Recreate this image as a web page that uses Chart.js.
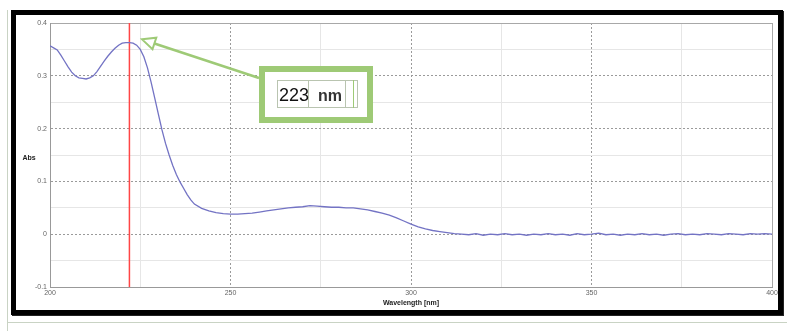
<!DOCTYPE html>
<html>
<head>
<meta charset="utf-8">
<script src="https://cdn.jsdelivr.net/npm/chart.js@4.4.0/dist/chart.umd.min.js"></script>
<style>
  html, body { margin: 0; padding: 0; background: #fff; }
  #wrap { position: relative; width: 787px; height: 331px; overflow: hidden; }
  #edgeL { position: absolute; left: 7px; top: 10px; width: 1px; height: 321px; background: #c9d3c4; }
  #edgeB { position: absolute; left: 7px; top: 322px; width: 780px; height: 1px; background: #c9d3c4; }
  #frame { position: absolute; left: 11px; top: 10px; width: 762px; height: 295px;
           border: 5px solid #000; box-shadow: 1px 1px 0 #222; background: #fff; }
  canvas { position: absolute; left: 0; top: 0; }
</style>
</head>
<body>
<div id="wrap">
  <div id="edgeL"></div>
  <div id="edgeB"></div>
  <div id="frame"></div>
  <canvas id="chart" width="787" height="331"></canvas>
</div>
<script>
// spectrum
var wavelengths = [
  200, 201, 202, 203, 204, 205, 206, 207, 208, 209,
  210, 211, 212, 213, 214, 215, 216, 217, 218, 219,
  220, 221, 222, 223, 224, 225, 226, 227, 228, 229,
  230, 231, 232, 233, 234, 235, 236, 237, 238, 239,
  240, 242, 244, 246, 248, 250, 252, 254, 256, 258,
  260, 262, 264, 266, 268, 270, 272, 274, 276, 278,
  280, 282, 284, 286, 288, 290, 292, 294, 296, 298,
  300, 302, 304, 306, 308, 310, 312, 314, 316, 318,
  320, 322, 324, 326, 328, 330, 332, 334, 336, 338,
  340, 342, 344, 346, 348, 350, 352, 354, 356, 358,
  360, 362, 364, 366, 368, 370, 372, 374, 376, 378,
  380, 382, 384, 386, 388, 390, 392, 394, 396, 398, 400
];
var absorbance = [
  0.357, 0.353, 0.349, 0.339, 0.328, 0.317, 0.307, 0.300, 0.296, 0.295,
  0.294, 0.296, 0.300, 0.308, 0.318, 0.328, 0.337, 0.345, 0.352, 0.358,
  0.362, 0.363, 0.363, 0.362, 0.358, 0.350, 0.336, 0.315, 0.288, 0.258,
  0.228, 0.198, 0.172, 0.150, 0.130, 0.113, 0.099, 0.087, 0.075, 0.065,
  0.057, 0.049, 0.044, 0.041, 0.039, 0.038, 0.038, 0.039, 0.040, 0.042,
  0.044, 0.046, 0.048, 0.050, 0.051, 0.052, 0.054, 0.053, 0.052, 0.051,
  0.051, 0.050, 0.050, 0.048, 0.046, 0.043, 0.040, 0.036, 0.031, 0.025,
  0.019, 0.014, 0.010, 0.007, 0.005, 0.003, 0.001, 0.000, -0.001, 0.001,
  -0.002, 0.000, -0.001, 0.001, -0.001, 0.000, -0.002, 0.000, -0.001, 0.001,
  -0.001, 0.000, -0.002, 0.001, -0.001, 0.000, 0.002, -0.001, 0.000, -0.002,
  0.000, -0.001, 0.001, -0.001, 0.000, -0.002, 0.000, 0.001, -0.001, 0.000,
  -0.001, 0.001, 0.000, -0.001, 0.001, 0.000, -0.001, 0.001, 0.000, 0.001, 0.000
];
var xMin = 200, xMax = 400, xStep = 25, xLabelStep = 50;
var yMin = -0.1, yMax = 0.4, yStep = 0.05;
var markerWl = 222;          // red cursor line
var peakAbs = 0.363;
var calloutText = ['223', 'nm'];

var spectrum = wavelengths.map(function (w, i) { return { x: w, y: absorbance[i] }; });
var cursor = [{ x: markerWl, y: yMin }, { x: markerWl, y: yMax }];

var green = 'rgb(158,202,118)';

function isMajorY(v) { return Math.abs(Math.round(v * 100)) % 10 === 0; }
function isMajorX(v) { return Math.round(v) % xLabelStep === 0; }

var callout = {
  id: 'callout',
  afterDraw: function (chart) {
    var c = chart.ctx, xs = chart.scales.x, ys = chart.scales.y;
    c.save();
    // "Abs" axis name, horizontal
    c.fillStyle = '#222';
    c.font = 'bold 7px "Liberation Sans", Arial, sans-serif';
    c.textAlign = 'center';
    c.textBaseline = 'middle';
    c.fillText('Abs', 29, ys.getPixelForValue(0.145));

    // arrow from box to the peak
    var tipX = xs.getPixelForValue(markerWl + 3.5);
    var tipY = ys.getPixelForValue(peakAbs + 0.006);
    var sx = 259, sy = 78;
    var ang = Math.atan2(tipY - sy, tipX - sx);
    var hl = 13, hw = 6;
    var bx = tipX - hl * Math.cos(ang), by = tipY - hl * Math.sin(ang);
    c.strokeStyle = green;
    c.lineWidth = 2.5;
    c.beginPath();
    c.moveTo(sx, sy);
    c.lineTo(bx, by);
    c.stroke();
    c.beginPath();
    c.moveTo(tipX, tipY);
    c.lineTo(bx + hw * Math.sin(ang), by - hw * Math.cos(ang));
    c.lineTo(bx - hw * Math.sin(ang), by + hw * Math.cos(ang));
    c.closePath();
    c.fillStyle = '#fff';
    c.fill();
    c.lineWidth = 2;
    c.stroke();

    // green box
    c.fillStyle = '#fff';
    c.fillRect(259, 66, 114, 57);
    c.lineWidth = 6;
    c.strokeStyle = green;
    c.strokeRect(262, 69, 108, 51);

    // little table with the value
    c.lineWidth = 1;
    c.strokeStyle = '#b9c4b0';
    c.strokeRect(277.5, 80.5, 80, 27);
    c.beginPath();
    c.moveTo(308.5, 80); c.lineTo(308.5, 108);
    c.moveTo(345.5, 80); c.lineTo(345.5, 108);
    c.stroke();
    c.strokeStyle = green;
    c.beginPath();
    c.moveTo(353.5, 80); c.lineTo(353.5, 108);
    c.stroke();

    c.fillStyle = '#111';
    c.textAlign = 'left';
    c.textBaseline = 'alphabetic';
    c.font = '18px "Liberation Sans", Arial, sans-serif';
    c.fillText(calloutText[0], 279, 101);
    c.font = 'bold 16px "Liberation Sans", Arial, sans-serif';
    c.fillStyle = '#333';
    c.fillText(calloutText[1], 318, 101);
    c.restore();
  }
};

new Chart(document.getElementById('chart'), {
  type: 'scatter',
  data: {
    datasets: [{
      label: 'Spectrum',
      data: spectrum,
      showLine: true,
      borderColor: '#7373c4',
      borderWidth: 1.3,
      pointRadius: 0,
      tension: 0
    }, {
      label: 'Cursor',
      data: cursor,
      showLine: true,
      borderColor: 'rgb(255,70,70)',
      backgroundColor: 'rgb(255,70,70)',
      borderWidth: 1.5,
      pointRadius: 0
    }]
  },
  options: {
    responsive: false,
    animation: false,
    layout: { padding: { left: 0, right: 15, top: 23, bottom: 0 } },
    plugins: {
      legend: { display: false },
      tooltip: { enabled: false }
    },
    scales: {
      x: {
        type: 'linear',
        min: xMin,
        max: xMax,
        afterFit: function (s) { s.height = 44; },
        ticks: {
          stepSize: xStep,
          autoSkip: false,
          maxRotation: 0,
          padding: 2,
          color: '#666',
          font: { size: 7, family: '"Liberation Sans", Arial, sans-serif' },
          callback: function (v) { return isMajorX(v) ? String(v) : ''; }
        },
        grid: {
          drawTicks: false,
          lineWidth: 1,
          color: function (ctx) {
            var v = ctx.tick ? ctx.tick.value : 0;
            if (v === xMin || v === xMax) return '#a8a8a8';
            return isMajorX(v) ? '#9a9a9a' : '#e6e6e6';
          }
        },
        border: {
          color: '#999',
          dash: function (ctx) {
            var v = ctx.tick ? ctx.tick.value : xMin;
            return (v !== xMin && v !== xMax && isMajorX(v)) ? [2, 2] : [];
          }
        },
        title: {
          display: true,
          text: 'Wavelength [nm]',
          color: '#222',
          padding: { top: 0, bottom: 24 },
          font: { size: 7, weight: 'bold', family: '"Liberation Sans", Arial, sans-serif' }
        }
      },
      y: {
        min: yMin,
        max: yMax,
        afterFit: function (s) { s.width = 50; },
        ticks: {
          stepSize: yStep,
          autoSkip: false,
          padding: 3,
          color: '#666',
          font: { size: 7, family: '"Liberation Sans", Arial, sans-serif' },
          callback: function (v) {
            if (!isMajorY(v)) return '';
            return String(Math.round(v * 10) / 10);
          }
        },
        grid: {
          drawTicks: false,
          lineWidth: 1,
          color: function (ctx) {
            var v = ctx.tick ? ctx.tick.value : 0;
            if (Math.abs(v - yMin) < 1e-6 || Math.abs(v - yMax) < 1e-6) return '#a8a8a8';
            return isMajorY(v) ? '#9a9a9a' : '#e6e6e6';
          }
        },
        border: {
          color: '#999',
          dash: function (ctx) {
            var v = ctx.tick ? ctx.tick.value : yMin;
            var edge = Math.abs(v - yMin) < 1e-6 || Math.abs(v - yMax) < 1e-6;
            return (!edge && isMajorY(v)) ? [2, 2] : [];
          }
        }
      }
    }
  },
  plugins: [callout]
});
</script>
</body>
</html>
